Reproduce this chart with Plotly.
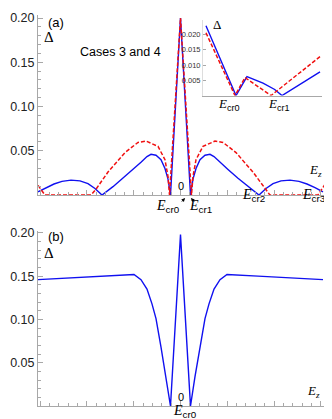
import plotly.graph_objects as go

# ---- data (x in units of E_z, 0 at the centre) ----
# panel (a), main curves
a_blue_x = [-3.048, -2.877, -2.706, -2.535, -2.342, -2.15, -1.979, -1.829, -1.679,
            -1.444, -1.23, -1.016, -0.845, -0.717, -0.631, -0.524, -0.417, -0.332,
            -0.267, -0.214, 0.0, 0.214, 0.267, 0.332, 0.417, 0.524, 0.631, 0.717,
            0.845, 1.016, 1.23, 1.444, 1.679, 1.829, 1.979, 2.15, 2.342, 2.535,
            2.706, 2.877, 3.048]
a_blue_y = [0.0037, 0.0085, 0.0125, 0.0155, 0.0169, 0.016, 0.013, 0.0075, 0.0,
            0.0095, 0.019, 0.029, 0.037, 0.0435, 0.046, 0.045, 0.04, 0.03,
            0.018, 0.0, 0.2, 0.0, 0.018, 0.03, 0.04, 0.045, 0.046, 0.0435,
            0.037, 0.029, 0.019, 0.0095, 0.0, 0.0075, 0.013, 0.016, 0.0169, 0.0155,
            0.0125, 0.0085, 0.0037]

a_red_x = [-3.048, -2.898, -1.914, -1.807, -1.551, -1.187, -0.909, -0.738, -0.481,
           -0.332, -0.267, -0.235, 0.0, 0.235, 0.267, 0.332, 0.481, 0.738, 0.909,
           1.187, 1.551, 1.807, 1.914, 2.94, 3.09]
a_red_y = [0.011, 0.0, 0.0, 0.0067, 0.026, 0.048, 0.0595, 0.061, 0.055,
           0.04, 0.021, 0.0, 0.2, 0.0, 0.021, 0.04, 0.055, 0.061, 0.0595,
           0.048, 0.026, 0.0067, 0.0, 0.0, 0.012]

# panel (a), inset (0 = E_cr0, 1 = E_cr1)
ins_blue_x = [-0.667, 0.0, 0.244, 0.6, 0.86, 1.022, 1.867]
ins_blue_y = [0.0229, 0.0, 0.0062, 0.0041, 0.002, 0.0, 0.0078]
ins_red_x = [-0.667, -0.022, 0.2, 0.489, 0.778, 1.867]
ins_red_y = [0.0206, 0.0, 0.0059, 0.003, 0.0, 0.0128]

# panel (b)
b_x = [-3.048, -2.406, -1.765, -0.995, -0.845, -0.717, -0.61, -0.524, -0.417, -0.31,
       -0.214, 0.0, 0.214, 0.31, 0.417, 0.524, 0.61, 0.717, 0.845, 0.995, 1.658,
       2.406, 3.048]
b_y = [0.146, 0.148, 0.15, 0.152, 0.146, 0.135, 0.118, 0.101, 0.068, 0.034,
       0.0, 0.198, 0.0, 0.034, 0.068, 0.101, 0.118, 0.135, 0.146, 0.152, 0.15,
       0.148, 0.146]

main_ticks = [0.05, 0.10, 0.15, 0.20]
inset_ticks = [0.005, 0.010, 0.015, 0.020]

BLUE = '#1010f0'
RED = '#f01010'
AXIS = '#a8a8a8'
SANS = 'Liberation Sans'
SERIF = 'Liberation Serif'

W, H = 332, 419
L, R, T, B = 30, 2, 5, 21


def px(x, y):
    """pixel position -> paper coordinates"""
    return (x - L) / (W - L - R), (H - B - y) / (H - T - B)


def ecr(sub):
    return ('<i>E</i><sub><span style="font-family:%s">%s</span></sub>' % (SANS, sub))


fig = go.Figure()

fig.add_trace(go.Scatter(x=a_blue_x, y=a_blue_y, mode='lines',
                         line=dict(color=BLUE, width=1.4), xaxis='x', yaxis='y'))
fig.add_trace(go.Scatter(x=a_red_x, y=a_red_y, mode='lines',
                         line=dict(color=RED, width=1.5, dash='4px,2px'), xaxis='x', yaxis='y'))
fig.add_trace(go.Scatter(x=ins_blue_x, y=ins_blue_y, mode='lines',
                         line=dict(color=BLUE, width=1.4), xaxis='x3', yaxis='y3'))
fig.add_trace(go.Scatter(x=ins_red_x, y=ins_red_y, mode='lines',
                         line=dict(color=RED, width=1.5, dash='4px,2px'), xaxis='x3', yaxis='y3'))
fig.add_trace(go.Scatter(x=b_x, y=b_y, mode='lines',
                         line=dict(color=BLUE, width=1.4), xaxis='x2', yaxis='y2'))

xcommon = dict(range=[-3.048, 3.369], showticklabels=False, ticks='inside', ticklen=5,
               tickcolor=AXIS, dtick=1, tick0=0, showline=True, linecolor=AXIS,
               linewidth=1, zeroline=False, showgrid=False,
               minor=dict(ticks='inside', ticklen=3, dtick=0.2, tick0=0, tickcolor=AXIS))
ycommon = dict(tickvals=main_ticks, ticktext=['%.2f' % v for v in main_ticks],
               ticks='inside', ticklen=5, tickcolor=AXIS, showline=True, linecolor=AXIS,
               linewidth=1, zeroline=False, showgrid=False,
               tickfont=dict(family=SANS, size=12.5, color='#222'),
               minor=dict(ticks='inside', ticklen=3, dtick=0.01, tick0=0, tickcolor=AXIS))

fig.update_layout(
    width=W, height=H,
    margin=dict(l=L, r=R, t=T, b=B),
    paper_bgcolor='white', plot_bgcolor='white',
    showlegend=False,
    xaxis=dict(xcommon, domain=[0, 1], anchor='y'),
    yaxis=dict(ycommon, domain=[px(0, 186)[1], 1], range=[0, 0.2034], anchor='x'),
    xaxis2=dict(xcommon, domain=[0, 1], anchor='y2'),
    yaxis2=dict(ycommon, domain=[0, px(0, 222)[1]], range=[0, 0.2023], anchor='x2'),
    xaxis3=dict(domain=[px(195, 0)[0], px(314, 0)[0]], range=[-0.733, 1.911], anchor='y3',
                showticklabels=False, ticks='', showline=True, linecolor=AXIS,
                zeroline=False, showgrid=False),
    yaxis3=dict(domain=[px(0, 86)[1], px(0, 10)[1]], range=[0, 0.0248], anchor='x3',
                tickvals=inset_ticks, ticktext=['%.3f' % v for v in inset_ticks],
                ticks='inside', ticklen=3, tickcolor=AXIS, showline=True, linecolor='#dddddd',
                zeroline=False, showgrid=False,
                tickfont=dict(family=SANS, size=7.5, color='#333')),
)

# (text, x, y, font, size)
labels = [
    ('(a)', 48, 13, SANS, 13),
    ('\u0394', 41, 27, SERIF, 15),
    ('Cases 3 and 4', 112, 42, SANS, 12.5),
    ('0', 173, 177, SANS, 11),
    (ecr('cr0'), 160, 197, SERIF, 14),
    (ecr('cr1'), 192, 197, SERIF, 14),
    (ecr('cr2'), 245, 186, SERIF, 14),
    (ecr('cr3'), 306, 186, SERIF, 14),
    ('<i>E</i><sub><i>z</i></sub>', 307, 161, SERIF, 13),
    ('\u0394', 209, 15, SERIF, 13),
    (ecr('cr0'), 221, 95, SERIF, 13),
    (ecr('cr1'), 271, 95, SERIF, 13),
    ('(b)', 48, 228, SANS, 13),
    ('\u0394', 41, 244, SERIF, 15),
    ('0', 173, 389, SANS, 11),
    (ecr('cr0'), 177, 404, SERIF, 14),
    ('<i>E</i><sub><i>z</i></sub>', 305, 383, SERIF, 13),
]
for text, x, y, fam, size in labels:
    xp, yp = px(x, y)
    fig.add_annotation(x=xp, y=yp, xref='paper', yref='paper', text=text,
                       showarrow=False, xanchor='center', yanchor='middle', borderpad=0,
                       font=dict(family=fam, size=size, color='black'))

# small arrows from the E_cr0 / E_cr1 labels to the axis
for (hx, hy), (tx, ty) in [((177, 189), (172.5, 194)), ((183, 189), (187.5, 194))]:
    xp, yp = px(hx, hy)
    fig.add_annotation(x=xp, y=yp, xref='paper', yref='paper', text='',
                       showarrow=True, ax=tx - hx, ay=ty - hy, arrowhead=2,
                       arrowsize=0.8, arrowwidth=0.9, arrowcolor='black')

fig.write_html("out.html")
